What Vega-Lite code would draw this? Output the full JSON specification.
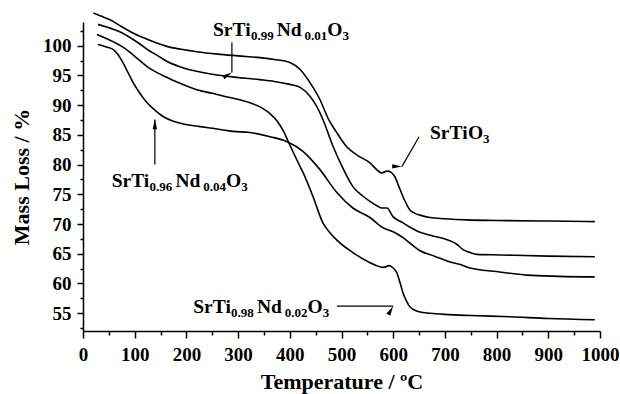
{
  "$schema": "https://vega.github.io/schema/vega-lite/v6.json",
  "width": 517,
  "height": 309,
  "autosize": {"type": "none"},
  "padding": {"left": 83, "top": 22, "right": 20, "bottom": 63},
  "background": "white",
  "config": {
    "view": {"stroke": null},
    "axis": {"grid": false}
  },
  "datasets": {
    "curves": [
      {"s":"SrTiO3","T":20,"m":105.5},{"s":"SrTiO3","T":40,"m":104.8},{"s":"SrTiO3","T":58,"m":104.1},{"s":"SrTiO3","T":75,"m":103.2},{"s":"SrTiO3","T":91,"m":102.4},{"s":"SrTiO3","T":110,"m":101.6},{"s":"SrTiO3","T":124,"m":101.1},{"s":"SrTiO3","T":145,"m":100.4},{"s":"SrTiO3","T":162,"m":99.9},{"s":"SrTiO3","T":190,"m":99.4},{"s":"SrTiO3","T":220,"m":99.0},{"s":"SrTiO3","T":260,"m":98.6},{"s":"SrTiO3","T":300,"m":98.3},{"s":"SrTiO3","T":342,"m":98.0},{"s":"SrTiO3","T":370,"m":97.7},{"s":"SrTiO3","T":400,"m":97.2},{"s":"SrTiO3","T":420,"m":96.0},{"s":"SrTiO3","T":439,"m":93.8},{"s":"SrTiO3","T":458,"m":91.0},{"s":"SrTiO3","T":474,"m":87.8},{"s":"SrTiO3","T":490,"m":85.5},{"s":"SrTiO3","T":510,"m":83.0},{"s":"SrTiO3","T":530,"m":81.6},{"s":"SrTiO3","T":555,"m":80.3},{"s":"SrTiO3","T":570,"m":79.0},{"s":"SrTiO3","T":578,"m":78.6},{"s":"SrTiO3","T":588,"m":78.9},{"s":"SrTiO3","T":596,"m":78.7},{"s":"SrTiO3","T":603,"m":78.0},{"s":"SrTiO3","T":611,"m":76.3},{"s":"SrTiO3","T":619,"m":74.6},{"s":"SrTiO3","T":626,"m":73.3},{"s":"SrTiO3","T":632,"m":72.4},{"s":"SrTiO3","T":642,"m":71.8},{"s":"SrTiO3","T":652,"m":71.5},{"s":"SrTiO3","T":671,"m":71.1},{"s":"SrTiO3","T":700,"m":70.9},{"s":"SrTiO3","T":743,"m":70.7},{"s":"SrTiO3","T":800,"m":70.6},{"s":"SrTiO3","T":900,"m":70.5},{"s":"SrTiO3","T":990,"m":70.4},
      {"s":"Nd01","T":29,"m":103.6},{"s":"Nd01","T":58,"m":102.8},{"s":"Nd01","T":75,"m":102.2},{"s":"Nd01","T":91,"m":101.4},{"s":"Nd01","T":110,"m":100.3},{"s":"Nd01","T":124,"m":99.4},{"s":"Nd01","T":145,"m":98.3},{"s":"Nd01","T":162,"m":97.4},{"s":"Nd01","T":190,"m":96.4},{"s":"Nd01","T":220,"m":95.7},{"s":"Nd01","T":250,"m":95.2},{"s":"Nd01","T":284,"m":94.8},{"s":"Nd01","T":342,"m":94.3},{"s":"Nd01","T":370,"m":94.0},{"s":"Nd01","T":400,"m":93.5},{"s":"Nd01","T":420,"m":93.0},{"s":"Nd01","T":439,"m":91.5},{"s":"Nd01","T":452,"m":89.8},{"s":"Nd01","T":464,"m":87.6},{"s":"Nd01","T":484,"m":83.0},{"s":"Nd01","T":501,"m":79.7},{"s":"Nd01","T":522,"m":76.3},{"s":"Nd01","T":540,"m":74.8},{"s":"Nd01","T":555,"m":73.8},{"s":"Nd01","T":570,"m":73.0},{"s":"Nd01","T":578,"m":72.7},{"s":"Nd01","T":588,"m":72.7},{"s":"Nd01","T":600,"m":71.2},{"s":"Nd01","T":610,"m":70.6},{"s":"Nd01","T":619,"m":70.2},{"s":"Nd01","T":632,"m":69.5},{"s":"Nd01","T":652,"m":68.6},{"s":"Nd01","T":677,"m":68.0},{"s":"Nd01","T":700,"m":67.5},{"s":"Nd01","T":723,"m":66.6},{"s":"Nd01","T":735,"m":65.7},{"s":"Nd01","T":749,"m":65.2},{"s":"Nd01","T":762,"m":64.9},{"s":"Nd01","T":807,"m":64.8},{"s":"Nd01","T":900,"m":64.6},{"s":"Nd01","T":990,"m":64.5},
      {"s":"Nd02","T":27,"m":101.9},{"s":"Nd02","T":58,"m":100.7},{"s":"Nd02","T":75,"m":99.9},{"s":"Nd02","T":91,"m":98.9},{"s":"Nd02","T":110,"m":97.5},{"s":"Nd02","T":124,"m":96.5},{"s":"Nd02","T":145,"m":95.4},{"s":"Nd02","T":162,"m":94.7},{"s":"Nd02","T":190,"m":93.6},{"s":"Nd02","T":220,"m":92.6},{"s":"Nd02","T":250,"m":92.0},{"s":"Nd02","T":284,"m":91.3},{"s":"Nd02","T":323,"m":90.4},{"s":"Nd02","T":345,"m":89.6},{"s":"Nd02","T":360,"m":88.7},{"s":"Nd02","T":375,"m":87.4},{"s":"Nd02","T":388,"m":85.6},{"s":"Nd02","T":400,"m":83.3},{"s":"Nd02","T":413,"m":80.9},{"s":"Nd02","T":426,"m":78.6},{"s":"Nd02","T":445,"m":74.6},{"s":"Nd02","T":464,"m":70.2},{"s":"Nd02","T":478,"m":68.5},{"s":"Nd02","T":491,"m":67.3},{"s":"Nd02","T":522,"m":65.2},{"s":"Nd02","T":555,"m":63.5},{"s":"Nd02","T":574,"m":62.8},{"s":"Nd02","T":582,"m":62.7},{"s":"Nd02","T":592,"m":63.0},{"s":"Nd02","T":600,"m":62.6},{"s":"Nd02","T":607,"m":61.8},{"s":"Nd02","T":613,"m":60.2},{"s":"Nd02","T":619,"m":58.4},{"s":"Nd02","T":626,"m":57.0},{"s":"Nd02","T":632,"m":56.1},{"s":"Nd02","T":642,"m":55.5},{"s":"Nd02","T":652,"m":55.2},{"s":"Nd02","T":671,"m":55.0},{"s":"Nd02","T":700,"m":54.8},{"s":"Nd02","T":750,"m":54.6},{"s":"Nd02","T":826,"m":54.4},{"s":"Nd02","T":900,"m":54.1},{"s":"Nd02","T":990,"m":53.9},
      {"s":"Nd04","T":29,"m":100.2},{"s":"Nd04","T":45,"m":99.8},{"s":"Nd04","T":58,"m":99.4},{"s":"Nd04","T":68,"m":98.5},{"s":"Nd04","T":77,"m":97.2},{"s":"Nd04","T":87,"m":95.5},{"s":"Nd04","T":97,"m":93.8},{"s":"Nd04","T":110,"m":92.0},{"s":"Nd04","T":124,"m":90.4},{"s":"Nd04","T":140,"m":89.1},{"s":"Nd04","T":155,"m":88.1},{"s":"Nd04","T":175,"m":87.3},{"s":"Nd04","T":201,"m":86.7},{"s":"Nd04","T":226,"m":86.4},{"s":"Nd04","T":260,"m":86.0},{"s":"Nd04","T":290,"m":85.6},{"s":"Nd04","T":323,"m":85.4},{"s":"Nd04","T":362,"m":84.7},{"s":"Nd04","T":394,"m":83.9},{"s":"Nd04","T":426,"m":82.2},{"s":"Nd04","T":458,"m":79.2},{"s":"Nd04","T":491,"m":75.3},{"s":"Nd04","T":522,"m":72.7},{"s":"Nd04","T":555,"m":71.1},{"s":"Nd04","T":580,"m":69.4},{"s":"Nd04","T":600,"m":68.7},{"s":"Nd04","T":619,"m":67.7},{"s":"Nd04","T":635,"m":66.6},{"s":"Nd04","T":652,"m":65.5},{"s":"Nd04","T":680,"m":64.6},{"s":"Nd04","T":710,"m":63.6},{"s":"Nd04","T":730,"m":63.2},{"s":"Nd04","T":749,"m":62.6},{"s":"Nd04","T":800,"m":62.0},{"s":"Nd04","T":859,"m":61.4},{"s":"Nd04","T":920,"m":61.2},{"s":"Nd04","T":990,"m":61.1}
    ],
    "arrows": [
      {"x":288,"y":100.6,"x2":288,"y2":95.5,"dir":"down"},
      {"x":650,"y":84.7,"x2":617,"y2":79.7,"dir":"downleft"},
      {"x":139,"y":80.0,"x2":139,"y2":87.6,"dir":"up"},
      {"x":491,"y":56.2,"x2":600,"y2":56.2,"dir":"right"}
    ],
    "labels": [
      {"x":251.5,"y":101.6,"t":"SrTi","sub":false},
      {"x":324.8,"y":101.6,"t":"0.99","sub":true},
      {"x":374.7,"y":101.6,"t":"Nd","sub":false},
      {"x":428.6,"y":101.6,"t":"0.01","sub":true},
      {"x":472.5,"y":101.6,"t":"O","sub":false},
      {"x":501.9,"y":101.6,"t":"3","sub":true},
      {"x":671.2,"y":84.3,"t":"SrTi","sub":false},
      {"x":744.5,"y":84.3,"t":"O","sub":false},
      {"x":773.9,"y":84.3,"t":"3","sub":true},
      {"x":55.5,"y":76.3,"t":"SrTi","sub":false},
      {"x":128.8,"y":76.3,"t":"0.96","sub":true},
      {"x":178.7,"y":76.3,"t":"Nd","sub":false},
      {"x":232.6,"y":76.3,"t":"0.04","sub":true},
      {"x":276.6,"y":76.3,"t":"O","sub":false},
      {"x":306.0,"y":76.3,"t":"3","sub":true},
      {"x":213.2,"y":55.1,"t":"SrTi","sub":false},
      {"x":286.5,"y":55.1,"t":"0.98","sub":true},
      {"x":336.4,"y":55.1,"t":"Nd","sub":false},
      {"x":390.4,"y":55.1,"t":"0.02","sub":true},
      {"x":434.2,"y":55.1,"t":"O","sub":false},
      {"x":463.6,"y":55.1,"t":"3","sub":true}
    ]
  },
  "resolve": {"scale": {"x": "shared", "y": "shared"}, "axis": {"x": "independent", "y": "independent"}},
  "layer": [
    {
      "data": {"name": "curves"},
      "mark": {"type": "line", "color": "black", "strokeWidth": 1.6, "interpolate": "monotone", "clip": false},
      "encoding": {
        "x": {"field": "T", "type": "quantitative",
          "scale": {"domain": [0, 1000], "nice": false, "zero": false},
          "axis": {"orient": "bottom", "values": [0,100,200,300,400,500,600,700,800,900,1000], "format": "d",
            "title": "Temperature / ºC", "titleFont": "Liberation Serif", "titleFontWeight": "bold", "titleFontSize": 22, "titleColor": "black",
            "titleY": 57, "titleBaseline": "alphabetic",
            "labelFont": "Liberation Serif", "labelFontWeight": "bold", "labelFontSize": 19, "labelColor": "black",
            "labelPadding": 7, "labelFlush": false, "labelOverlap": false,
            "tickColor": "black", "tickSize": 7, "tickWidth": 1.5, "domainColor": "black", "domainWidth": 1.5}},
        "y": {"field": "m", "type": "quantitative",
          "scale": {"domain": [52, 104], "nice": false, "zero": false},
          "axis": {"orient": "left", "values": [55,60,65,70,75,80,85,90,95,100], "format": "d",
            "title": "Mass Loss / %", "titleFont": "Liberation Serif", "titleFontWeight": "bold", "titleFontSize": 22, "titleColor": "black",
            "titleX": -55, "titleBaseline": "alphabetic",
            "labelFont": "Liberation Serif", "labelFontWeight": "bold", "labelFontSize": 19, "labelColor": "black",
            "labelPadding": 6, "labelFlush": false, "labelOverlap": false,
            "tickColor": "black", "tickSize": 6, "tickWidth": 1.5, "domainColor": "black", "domainWidth": 1.5}},
        "detail": {"field": "s", "type": "nominal"}
      }
    },
    {
      "data": {"name": "arrows"},
      "mark": {"type": "rule", "color": "black", "strokeWidth": 1.2},
      "encoding": {
        "x": {"field": "x", "type": "quantitative",
          "axis": {"orient": "bottom", "values": [50,150,250,350,450,550,650,750,850,950], "labels": false, "domain": false, "title": null,
            "tickColor": "black", "tickSize": 4, "tickWidth": 1.5}},
        "y": {"field": "y", "type": "quantitative",
          "axis": {"orient": "left", "values": [52.5,57.5,62.5,67.5,72.5,77.5,82.5,87.5,92.5,97.5,102.5], "labels": false, "domain": false, "title": null,
            "tickColor": "black", "tickSize": 3, "tickWidth": 1.5}},
        "x2": {"field": "x2"},
        "y2": {"field": "y2"}
      }
    },
    {
      "data": {"name": "arrows"},
      "mark": {"type": "point", "filled": true, "color": "black", "opacity": 1, "size": 150, "shape": "M0,0L0.36,1.6L-0.36,1.6Z", "strokeWidth": 0},
      "encoding": {
        "x": {"field": "x2", "type": "quantitative", "axis": null},
        "y": {"field": "y2", "type": "quantitative", "axis": null},
        "angle": {"field": "dir", "type": "nominal", "scale": {"domain": ["up", "right", "down", "downleft"], "range": [0, 90, 180, 210]}, "legend": null}
      }
    },
    {
      "data": {"name": "labels"},
      "transform": [{"filter": "!datum.sub"}],
      "mark": {"type": "text", "font": "Liberation Serif", "fontWeight": "bold", "fontSize": 19.5, "color": "black", "align": "left", "baseline": "alphabetic"},
      "encoding": {
        "x": {"field": "x", "type": "quantitative", "axis": null},
        "y": {"field": "y", "type": "quantitative", "axis": null},
        "text": {"field": "t"}
      }
    },
    {
      "data": {"name": "labels"},
      "transform": [{"filter": "datum.sub"}],
      "mark": {"type": "text", "font": "Liberation Serif", "fontWeight": "bold", "fontSize": 13, "color": "black", "align": "left", "baseline": "alphabetic", "dy": 4},
      "encoding": {
        "x": {"field": "x", "type": "quantitative", "axis": null},
        "y": {"field": "y", "type": "quantitative", "axis": null},
        "text": {"field": "t"}
      }
    }
  ]
}
